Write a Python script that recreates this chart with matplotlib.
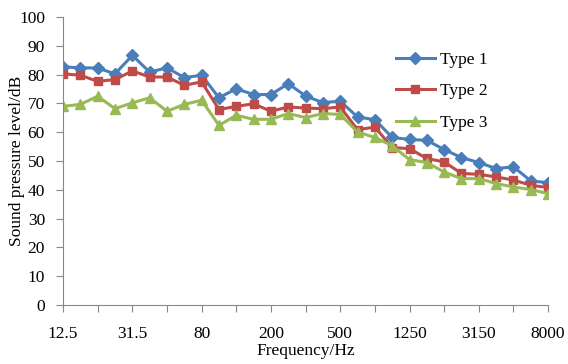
import numpy as np
import matplotlib.pyplot as plt

freqs = ['12.5', '16', '20', '25', '31.5', '40', '50', '63', '80', '100', '125', '160',
         '200', '250', '315', '400', '500', '630', '800', '1000', '1250', '1600', '2000',
         '2500', '3150', '4000', '5000', '6300', '8000']
type1 = [82.7, 82.4, 82.3, 80.3, 86.7, 80.9, 82.4, 79.0, 79.8, 72.0, 75.1, 73.1, 73.1,
         76.9, 72.6, 70.3, 70.8, 65.3, 64.4, 58.2, 57.5, 57.2, 54.0, 51.2, 49.5, 47.4,
         48.0, 43.1, 42.5]
type2 = [80.3, 79.8, 77.7, 78.3, 81.3, 79.2, 79.2, 76.3, 77.5, 67.9, 69.0, 69.9, 67.3,
         68.8, 68.4, 68.2, 68.8, 60.9, 61.8, 54.7, 54.3, 50.9, 49.7, 45.7, 45.4, 44.5,
         43.4, 41.6, 40.8]
type3 = [69.0, 69.7, 72.5, 68.2, 70.2, 72.0, 67.3, 69.7, 71.1, 62.4, 65.9, 64.5, 64.5,
         66.5, 65.1, 66.5, 66.2, 60.1, 58.2, 55.3, 50.5, 49.5, 46.2, 43.9, 43.9, 42.2,
         41.0, 40.1, 38.7]

plt.rcParams['font.family'] = ['Liberation Serif', 'DejaVu Serif']
fs = 12.5

fig = plt.figure(figsize=(5.68, 3.64), dpi=100)
ax = fig.add_axes([0.111, 0.162, 0.854, 0.791])

x = np.arange(len(freqs))
ax.plot(x, type1, color='#4a7ebb', marker='D', markersize=6, lw=2.2, label='Type 1')
ax.plot(x, type2, color='#be4b48', marker='s', markersize=6, lw=2.2, label='Type 2')
ax.plot(x, type3, color='#98b954', marker='^', markersize=7, lw=2.2, label='Type 3')

ax.set_xlim(0, len(freqs) - 1)
ax.set_ylim(0, 100)
ax.set_yticks(np.arange(0, 101, 10))
ax.set_xticks(x[::2])
ax.set_xticklabels([f if i % 4 == 0 else '' for i, f in enumerate(freqs)][::2])

for s in ['top', 'right']:
    ax.spines[s].set_visible(False)
for s in ['left', 'bottom']:
    ax.spines[s].set_color('#888888')
ax.tick_params(colors='#888888', labelcolor='black', labelsize=fs, length=5)
ax.tick_params(axis='x', pad=10)
ax.tick_params(axis='y', pad=8)

ax.set_xlabel('Frequency/Hz', fontsize=fs, labelpad=1)
ax.set_ylabel('Sound pressure level/dB', fontsize=fs, labelpad=-4)

ax.legend(loc='upper left', bbox_to_anchor=(0.655, 0.935), frameon=False, fontsize=fs,
          handlelength=2.2, labelspacing=0.9, handletextpad=0.3)

fig.savefig('out.png', dpi=100)
